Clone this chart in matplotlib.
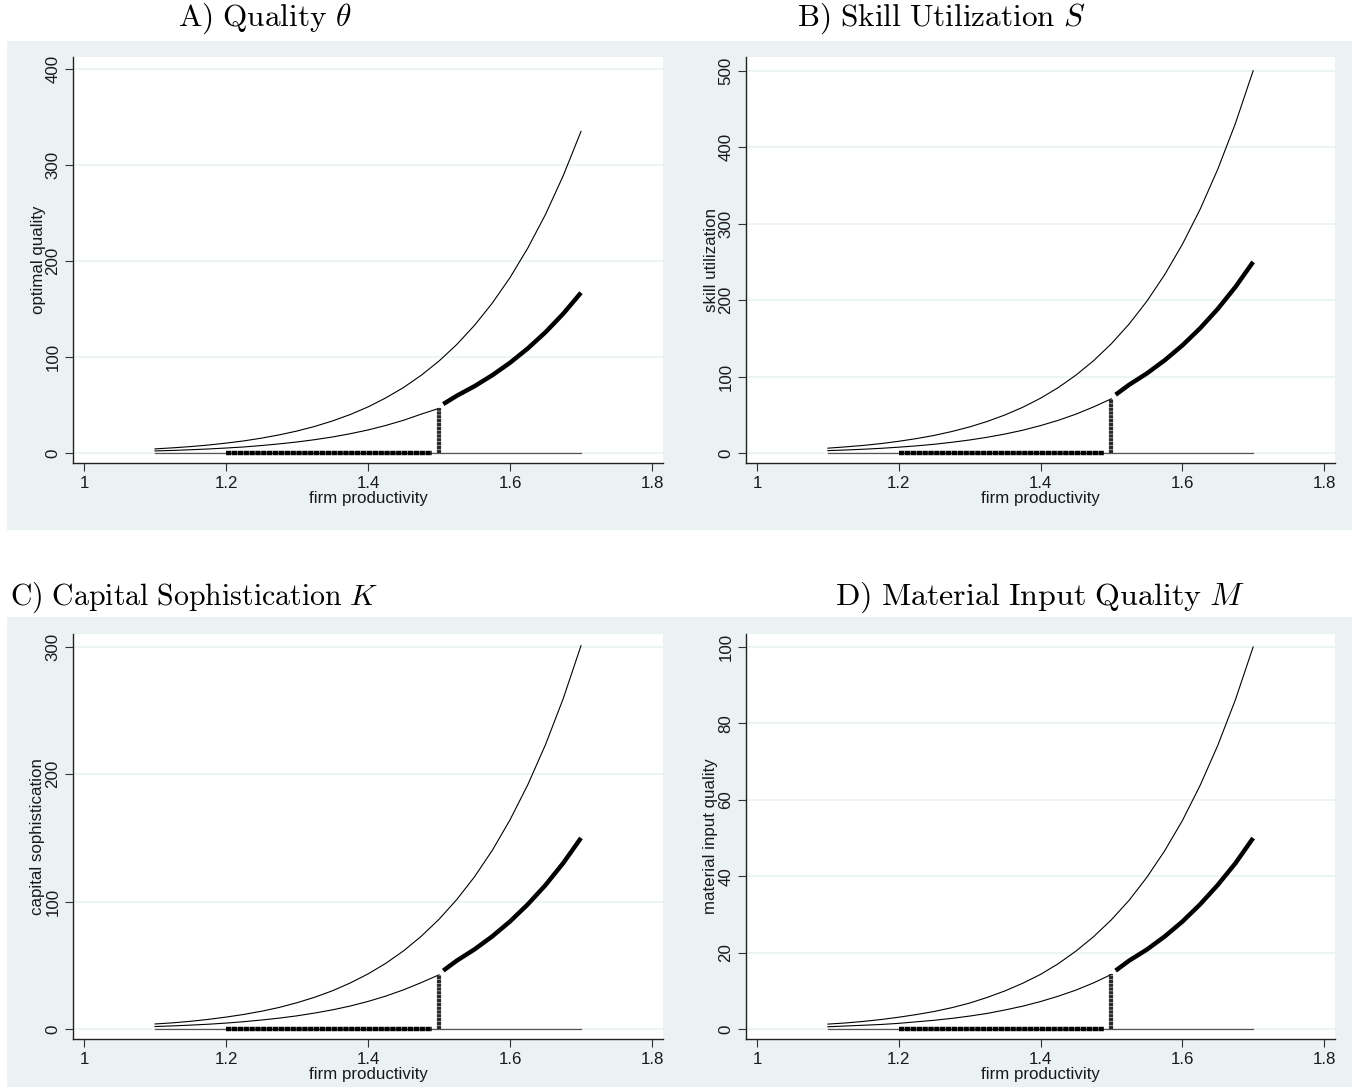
import matplotlib.pyplot as plt
from matplotlib.patches import Rectangle

plt.rcParams['font.family'] = ['Liberation Sans', 'DejaVu Sans']
plt.rcParams['mathtext.fontset'] = 'cm'

# firm productivity grid
prod = [1.1, 1.125, 1.15, 1.175, 1.2, 1.225, 1.25, 1.275, 1.3, 1.325, 1.35, 1.375,
        1.4, 1.425, 1.45, 1.475, 1.5, 1.525, 1.55, 1.575, 1.6, 1.625, 1.65, 1.675, 1.7]
prod_low = prod[:17]     # 1.1 .. 1.5
prod_high = prod[16:]    # 1.5 .. 1.7
cutoff = 1.5
floor_start = 1.2

# A) quality
theta_upper = [4.3, 5.4, 6.7, 8.3, 10.3, 12.6, 15.5, 18.9, 22.9, 27.7, 33.4, 40.1,
               48.0, 57.4, 68.2, 81.0, 95.8, 113.0, 133.0, 156.1, 182.7, 213.4, 248.5, 288.9, 335]
theta_lower = [2.2, 2.7, 3.4, 4.2, 5.2, 6.3, 7.8, 9.5, 11.5, 13.9, 16.7, 20.1,
               24.0, 28.7, 34.1, 40.5, 46.5]
theta_chosen = [51.0, 59.6, 69.6, 81.0, 94.0, 108.9, 125.8, 145.1, 167]

# B) skill utilization
skill_upper = [6.4, 8.1, 10.0, 12.4, 15.4, 18.9, 23.1, 28.2, 34.2, 41.4, 49.9, 59.9,
               71.7, 85.6, 101.9, 120.9, 143.0, 168.7, 198.5, 233.0, 272.7, 318.4, 371.0, 431.1, 500]
skill_lower = [3.2, 4.0, 5.0, 6.2, 7.7, 9.4, 11.5, 14.1, 17.1, 20.7, 24.9, 29.9,
               35.9, 42.8, 50.9, 60.4, 71.0]
skill_chosen = [76.3, 89.3, 104.1, 121.2, 140.7, 163.0, 188.4, 217.2, 250]

# C) capital sophistication
capital_upper = [3.9, 4.8, 6.0, 7.5, 9.3, 11.4, 13.9, 16.9, 20.6, 24.9, 30.0, 36.1,
                 43.2, 51.5, 61.3, 72.8, 86.1, 101.6, 119.5, 140.2, 164.2, 191.7, 223.3, 259.5, 301]
capital_lower = [1.9, 2.4, 3.0, 3.7, 4.6, 5.7, 7.0, 8.5, 10.3, 12.5, 15.0, 18.0,
                 21.6, 25.8, 30.7, 36.4, 42.5]
capital_chosen = [45.8, 53.6, 62.5, 72.7, 84.4, 97.8, 113.0, 130.3, 150]

# D) material input quality
material_upper = [1.3, 1.6, 2.0, 2.5, 3.1, 3.8, 4.6, 5.6, 6.8, 8.3, 10.0, 12.0,
                  14.3, 17.1, 20.4, 24.2, 28.6, 33.7, 39.7, 46.6, 54.5, 63.7, 74.2, 86.2, 100]
material_lower = [0.6, 0.8, 1.0, 1.2, 1.5, 1.9, 2.3, 2.8, 3.4, 4.1, 5.0, 6.0,
                  7.2, 8.6, 10.2, 12.1, 14.3]
material_chosen = [15.3, 17.9, 20.8, 24.2, 28.1, 32.6, 37.7, 43.4, 50]

titles = [r'$\mathrm{A)\ Quality}\ \theta$', r'$\mathrm{B)\ Skill\ Utilization}\ S$',
          r'$\mathrm{C)\ Capital\ Sophistication}\ K$', r'$\mathrm{D)\ Material\ Input\ Quality}\ M$']
ylabels = ['optimal quality', 'skill utilization', 'capital sophistication', 'material input quality']
yticks = [[0, 100, 200, 300, 400], [0, 100, 200, 300, 400, 500],
          [0, 100, 200, 300], [0, 20, 40, 60, 80, 100]]
ylims = [(-10.4, 412.5), (-13, 518), (-7.9, 310.2), (-2.6, 103.4)]
xticks = [1, 1.2, 1.4, 1.6, 1.8]
xticklabels = ['1', '1.2', '1.4', '1.6', '1.8']

uppers = [theta_upper, skill_upper, capital_upper, material_upper]
lowers = [theta_lower, skill_lower, capital_lower, material_lower]
chosens = [theta_chosen, skill_chosen, capital_chosen, material_chosen]

W, H = 1357, 1090
bg = '#eaf2f3'
fig = plt.figure(figsize=(W / 100, H / 100), dpi=100)

# gray graph regions (pixels: x0, y_top, x1, y_bottom)
regions = [(6.7, 41, 680, 530), (680, 41, 1352, 530), (6.7, 617, 680, 1087), (680, 617, 1352, 1087)]
for x0, yt, x1, yb in regions:
    fig.patches.append(Rectangle((x0 / W, 1 - yb / H), (x1 - x0) / W, (yb - yt) / H,
                                 transform=fig.transFigure, facecolor=bg, edgecolor='none', zorder=-1))

# plot areas (pixels: left, top, right, bottom)
plot_boxes = [(73, 57, 663, 463), (746, 57, 1335, 463), (73, 634, 663, 1039), (746, 634, 1335, 1039)]
title_pos = [(265, 19, 'center', 22.5), (941, 19, 'center', 22.5),
             (10, 598, 'left', 21.5), (1245, 598, 'right', 23)]

for i in range(4):
    l, t, r, b = plot_boxes[i]
    ax = fig.add_axes([l / W, 1 - b / H, (r - l) / W, (b - t) / H])
    ax.set_facecolor('white')

    for y in yticks[i]:
        ax.axhline(y, color=bg, lw=1.2, zorder=0)

    ax.plot([prod[0], prod[-1]], [0, 0], color='#555555', lw=0.9, zorder=2)
    ax.plot(prod, uppers[i], color='black', lw=0.8, zorder=3)
    ax.plot(prod_low, lowers[i], color='black', lw=0.8, zorder=3)
    ax.plot([prod_high[0] + 0.006] + prod_high[1:], chosens[i], color='black', lw=3.2,
            solid_capstyle='butt', zorder=4)
    ax.plot([floor_start, cutoff - 0.01], [0, 0], color='black', lw=3.2,
            linestyle=(0, (1.2, 0.12)), zorder=4)
    ax.plot([cutoff, cutoff], [0, lowers[i][-1]], color='#2a2a2a', lw=3.0,
            linestyle=(0, (0.8, 0.12)), zorder=4)

    ax.set_xlim(0.9845, 1.8155)
    ax.set_ylim(*ylims[i])
    ax.set_xticks(xticks)
    ax.set_xticklabels(xticklabels)
    ax.set_yticks(yticks[i])
    ax.set_yticklabels([str(v) for v in yticks[i]], rotation=90, va='center')
    ax.tick_params(axis='both', direction='out', length=6, width=0.8, color='#333333',
                   labelsize=12.2, labelcolor='#1a1a1a', pad=3)
    for side in ['top', 'right']:
        ax.spines[side].set_visible(False)
    for side in ['left', 'bottom']:
        ax.spines[side].set_color('#222222')
        ax.spines[side].set_linewidth(1.0)
    ax.set_xlabel('firm productivity', fontsize=12.2, labelpad=0, color='#1a1a1a')
    ax.set_ylabel(ylabels[i], fontsize=12.2, labelpad=0, color='#1a1a1a')

    tx, ty, ha, fs = title_pos[i]
    fig.text(tx / W, 1 - ty / H, titles[i], fontsize=fs, ha=ha, va='center', color='black')

fig.savefig('out.png', dpi=100, facecolor='white')
